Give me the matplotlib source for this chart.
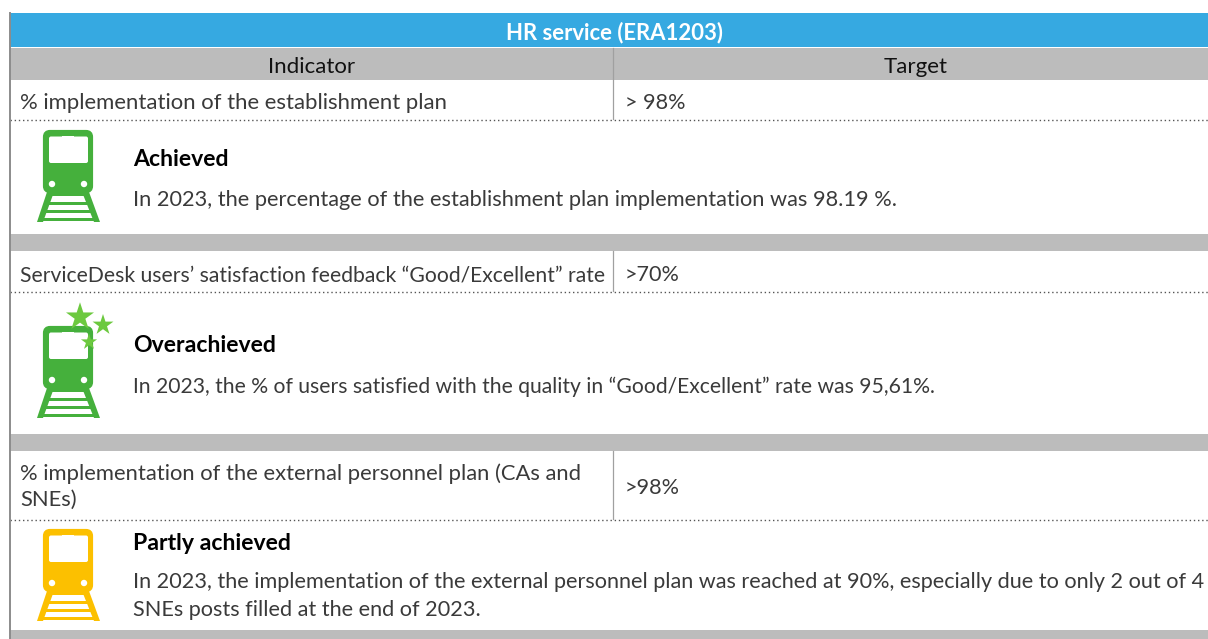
import matplotlib
matplotlib.use("Agg")
import matplotlib.pyplot as plt
from matplotlib.patches import Rectangle, FancyBboxPatch, Polygon, Circle
from matplotlib.markers import MarkerStyle

plt.rcParams["font.family"] = ["Lato", "DejaVu Sans"]

title = "HR service (ERA1203)"
headers = ["Indicator", "Target"]
indicators = ["% implementation of the establishment plan",
              "ServiceDesk users\u2019 satisfaction feedback \u201cGood/Excellent\u201d rate",
              "% implementation of the external personnel plan (CAs and\nSNEs)"]
targets = ["> 98%", ">70%", ">98%"]
statuses = ["Achieved", "Overachieved", "Partly achieved"]
comments = ["In 2023, the percentage of the establishment plan implementation was 98.19 %.",
            "In 2023, the % of users satisfied with the quality in \u201cGood/Excellent\u201d rate was 95,61%.",
            "In 2023, the implementation of the external personnel plan was reached at 90%, especially due to only 2 out of 4\nSNEs posts filled at the end of 2023."]

BLUE = "#36a9e1"
GREY = "#bcbcbc"
GREEN = "#45b03c"
YELLOW = "#fcc000"
STAR = "#6cc93f"
TEXT = "#3a3a3a"

fig = plt.figure(figsize=(12.08, 6.39), dpi=100)
ax = fig.add_axes([0, 0, 1, 1])
ax.set_xlim(0, 1208)
ax.set_ylim(639, 0)
ax.axis("off")


def band(y0, y1, color=GREY):
    ax.add_patch(Rectangle((10, y0), 1198, y1 - y0, fc=color, ec="none", zorder=1))


def train(top, color):
    # top = y of the train roof, icon is about 92 px high
    ax.add_patch(FancyBboxPatch((45, top + 2), 46, 59, boxstyle="round,pad=0,rounding_size=5",
                                fc=color, ec=color, lw=3, zorder=2))
    ax.add_patch(FancyBboxPatch((49, top + 6.5), 39, 26.5, boxstyle="round,pad=0,rounding_size=2",
                                fc="white", ec="none", zorder=3))
    ax.add_patch(Rectangle((62, top + 5.5), 12, 1.5, fc="white", ec="none", zorder=3))
    ax.add_patch(Circle((52, top + 54), 3.2, fc="white", ec="none", zorder=3))
    ax.add_patch(Circle((84, top + 54), 3.2, fc="white", ec="none", zorder=3))
    # rails
    ax.add_patch(Polygon([(47, top + 62), (54, top + 62), (43, top + 92), (37, top + 92)], fc=color, ec="none", zorder=2))
    ax.add_patch(Polygon([(82, top + 62), (89, top + 62), (100, top + 92), (94, top + 92)], fc=color, ec="none", zorder=2))
    for sy, sh in [(63, 3), (72, 3), (80, 2.5), (88, 3)]:
        ax.add_patch(Rectangle((48 - (sy - 63) * 0.33, top + sy), 40 + (sy - 63) * 0.66, sh, fc=color, ec="none", zorder=2))


def stars():
    for cx, cy, s in [(80, 317, 450), (103, 325, 250), (89, 342, 150)]:
        ax.scatter([cx], [cy], s=s, marker=MarkerStyle("*"), color=STAR, ec="none", zorder=4)


# header rows
band(13, 47, BLUE)
band(48, 80)
ax.text(614, 33, title, ha="center", va="center", color="white", fontsize=15.9, fontweight="bold", zorder=5)
ax.text(312, 67, headers[0], ha="center", va="center", color="#111111", fontsize=16, zorder=5)
ax.text(916, 67, headers[1], ha="center", va="center", color="#111111", fontsize=16, zorder=5)

# separators between rows
band(234, 251)
band(434, 451)
band(630, 639)
ax.plot([9.5, 9.5], [13, 639], color="#8c8c8c", lw=1.4, zorder=6)
ax.plot([613, 613], [48, 119], color="#a0a0a0", lw=0.9, zorder=2)
ax.plot([613, 613], [251, 291], color="#a0a0a0", lw=0.9, zorder=2)
ax.plot([613, 613], [451, 519], color="#a0a0a0", lw=0.9, zorder=2)
for y in [119.5, 291.5, 519.5]:
    ax.plot([10, 1208], [y, y], color="#555555", lw=1.0, ls=(0, (1, 2)), zorder=2)

# indicator rows
row_y = [103, 275, 487]
target_y = [103, 275, 488]
status_y = [160, 346, 544]
comment_y = [200, 387, 596]
train_top = [130, 326, 529]
colors = [GREEN, GREEN, YELLOW]
row_fs = [15.9, 15.18, 15.8]
comment_fs = [15.7, 15.22, 15.62]
for i in range(3):
    ax.text(20, row_y[i], indicators[i], ha="left", va="center", color=TEXT, fontsize=row_fs[i],
            linespacing=1.35, zorder=5)
    ax.text(625, target_y[i], targets[i], ha="left", va="center", color=TEXT, fontsize=15.6, zorder=5)
    ax.text(133, status_y[i], statuses[i], ha="left", va="center", color="black", fontsize=16.6,
            fontweight="bold", zorder=5)
    ax.text(133, comment_y[i], comments[i], ha="left", va="center", color=TEXT, fontsize=comment_fs[i],
            linespacing=1.45, zorder=5)
    train(train_top[i], colors[i])
stars()

fig.savefig("out.png", dpi=100)
